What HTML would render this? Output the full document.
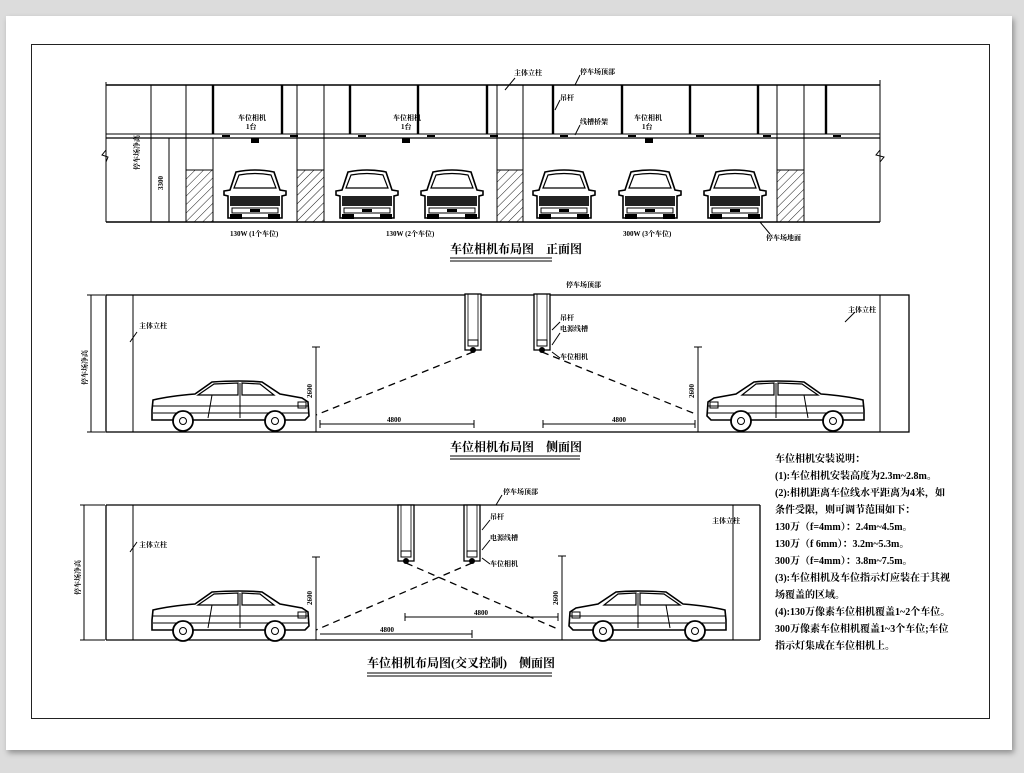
<!DOCTYPE html>
<html><head><meta charset="utf-8"><style>
html,body{margin:0;padding:0;background:#dcdcdc;}
.wrap{position:relative;width:1024px;height:773px;overflow:hidden;}
svg{position:absolute;left:0;top:0;}
text{font-family:"Liberation Serif","Noto Serif CJK SC","Noto Sans CJK SC",serif;fill:#000;}
.s{font-size:7px;font-weight:bold;}
.n{font-size:10px;font-weight:bold;}
.t{font-size:12px;font-weight:bold;}
</style></head><body><div class="wrap">
<svg width="1024" height="773" viewBox="0 0 1024 773">
<defs>
<filter id="sh" x="-5%" y="-5%" width="110%" height="110%"><feDropShadow dx="2" dy="3" stdDeviation="3" flood-opacity="0.35"/></filter>
<pattern id="hatch" width="6" height="6" patternUnits="userSpaceOnUse" patternTransform="rotate(45)"><line x1="0" y1="0" x2="0" y2="6" stroke="#000" stroke-width="0.9"/></pattern>
<g id="carF">
<path d="M8,50 L8,28 L4,27 L4,23 L10,22 L16,4 Q35,0 54,4 L60,22 L66,23 L66,27 L62,28 L62,50 Z" fill="#fff" stroke="#000" stroke-width="1.6"/>
<path d="M14,20 L19,7 Q35,4 51,7 L56,20 Z" fill="none" stroke="#000" stroke-width="1.2"/>
<rect x="10" y="28" width="50" height="10" fill="#222"/>
<rect x="12" y="40" width="46" height="5" fill="#fff" stroke="#000"/>
<rect x="10" y="46" width="12" height="5" fill="#000"/><rect x="48" y="46" width="12" height="5" fill="#000"/>
<rect x="30" y="41" width="10" height="3" fill="#000"/>
</g>
<g id="carS">
<path d="M2,30 L3,20 Q20,16 45,14 L62,2 Q90,0 112,2 L130,14 L152,18 L158,22 L159,36 L155,40 L2,40 Z" fill="#fff" stroke="#000" stroke-width="1.6"/>
<path d="M48,15 L64,4 L88,3 L88,15 Z M92,3 L110,4 L124,15 L92,15 Z" fill="none" stroke="#000" stroke-width="1.2"/>
<line x1="62" y1="15" x2="58" y2="38" stroke="#000"/><line x1="90" y1="3" x2="90" y2="38" stroke="#000"/>
<line x1="3" y1="26" x2="158" y2="26" stroke="#000" stroke-width="0.9"/>
<line x1="3" y1="33" x2="158" y2="33" stroke="#000" stroke-width="0.9"/>
<rect x="148" y="22" width="8" height="6" fill="none" stroke="#000"/>
<circle cx="33" cy="41" r="10" fill="#fff" stroke="#000" stroke-width="1.8"/><circle cx="33" cy="41" r="3.5" fill="none" stroke="#000"/>
<circle cx="125" cy="41" r="10" fill="#fff" stroke="#000" stroke-width="1.8"/><circle cx="125" cy="41" r="3.5" fill="none" stroke="#000"/>
</g>
<g id="cam">
<rect x="0" y="0" width="16" height="56" fill="#fff" stroke="#000" stroke-width="1.3"/>
<line x1="3" y1="0" x2="3" y2="46" stroke="#000" stroke-width="0.8"/>
<line x1="13" y1="0" x2="13" y2="46" stroke="#000" stroke-width="0.8"/>
<rect x="3" y="46" width="10" height="6" fill="none" stroke="#000"/>
<circle cx="8" cy="56" r="3" fill="#000"/>
</g>
</defs>
<rect x="6" y="16" width="1006" height="734" fill="#fff" filter="url(#sh)"/>
<rect x="31.5" y="44.5" width="958" height="674" fill="none" stroke="#222" stroke-width="1"/>

<g stroke="#000" fill="none" stroke-width="1">
<line x1="106" y1="85" x2="880" y2="85" stroke-width="1.4"/>
<line x1="106" y1="134" x2="880" y2="134"/>
<line x1="106" y1="138" x2="880" y2="138" stroke-width="1.3"/>
<line x1="106" y1="222" x2="880" y2="222" stroke-width="1.4"/>
<line x1="106" y1="82" x2="106" y2="222"/>
<line x1="880" y1="80" x2="880" y2="222"/>
<line x1="151" y1="85" x2="151" y2="222"/>
<line x1="169" y1="138" x2="169" y2="222"/>
<g stroke-width="2.4">
<line x1="213" y1="85" x2="213" y2="134"/><line x1="282" y1="85" x2="282" y2="134"/>
<line x1="350" y1="85" x2="350" y2="134"/><line x1="418" y1="85" x2="418" y2="134"/>
<line x1="487" y1="85" x2="487" y2="134"/><line x1="553" y1="85" x2="553" y2="134"/>
<line x1="622" y1="85" x2="622" y2="134"/><line x1="690" y1="85" x2="690" y2="134"/>
<line x1="758" y1="85" x2="758" y2="134"/><line x1="826" y1="85" x2="826" y2="134"/>
</g>
<line x1="186" y1="85" x2="186" y2="222"/><line x1="213" y1="138" x2="213" y2="222"/>
<line x1="297" y1="85" x2="297" y2="222"/><line x1="324" y1="85" x2="324" y2="222"/>
<line x1="497" y1="85" x2="497" y2="222"/><line x1="523" y1="85" x2="523" y2="222"/>
<line x1="777" y1="85" x2="777" y2="222"/><line x1="804" y1="85" x2="804" y2="222"/>
<polyline points="106,150 102,155 108,157 106,162"/>
<polyline points="880,150 876,155 884,157 880,162"/>
<line x1="505" y1="90" x2="515" y2="78"/><line x1="575" y1="85" x2="580" y2="75"/>
<line x1="555" y1="110" x2="560" y2="100"/><line x1="575" y1="135" x2="580" y2="125"/>
<line x1="760" y1="222" x2="770" y2="234"/>
</g>
<g fill="url(#hatch)" stroke="#000">
<rect x="186" y="170" width="27" height="52"/><rect x="297" y="170" width="27" height="52"/>
<rect x="497" y="170" width="26" height="52"/><rect x="777" y="170" width="27" height="52"/>
</g>
<g fill="#000">
<rect x="222" y="135" width="8" height="2"/><rect x="290" y="135" width="8" height="2"/><rect x="358" y="135" width="8" height="2"/>
<rect x="427" y="135" width="8" height="2"/><rect x="490" y="135" width="8" height="2"/><rect x="560" y="135" width="8" height="2"/>
<rect x="628" y="135" width="8" height="2"/><rect x="696" y="135" width="8" height="2"/><rect x="763" y="135" width="8" height="2"/><rect x="833" y="135" width="8" height="2"/>
<rect x="251" y="138" width="8" height="5"/><rect x="402" y="138" width="8" height="5"/><rect x="645" y="138" width="8" height="5"/>
</g>
<use href="#carF" x="220" y="168"/><use href="#carF" x="332" y="168"/><use href="#carF" x="417" y="168"/>
<use href="#carF" x="529" y="168"/><use href="#carF" x="615" y="168"/><use href="#carF" x="700" y="168"/>
<text class="s" x="238" y="120">车位相机</text><text class="s" x="246" y="129">1台</text>
<text class="s" x="393" y="120">车位相机</text><text class="s" x="401" y="129">1台</text>
<text class="s" x="634" y="120">车位相机</text><text class="s" x="642" y="129">1台</text>
<text class="s" x="514" y="75">主体立柱</text><text class="s" x="580" y="74">停车场顶部</text>
<text class="s" x="560" y="100">吊杆</text><text class="s" x="580" y="124">线槽桥架</text>
<text class="s" x="766" y="240">停车场地面</text>
<text class="s" transform="translate(139,170) rotate(-90)">停车场净高</text>
<text class="s" transform="translate(163,190) rotate(-90)">3300</text>
<text class="s" x="230" y="236">130W (1个车位)</text>
<text class="s" x="386" y="236">130W (2个车位)</text>
<text class="s" x="623" y="236">300W (3个车位)</text>
<text class="t" x="450" y="253">车位相机布局图　正面图</text>
<line x1="450" y1="258" x2="552" y2="258" stroke="#000"/><line x1="450" y1="261" x2="552" y2="261" stroke="#000"/>

<g stroke="#000" fill="none" stroke-width="1">
<rect x="106" y="295" width="803" height="137" stroke-width="1.3"/>
<line x1="133" y1="295" x2="133" y2="432"/><line x1="880" y1="295" x2="880" y2="432"/>
<line x1="91" y1="295" x2="91" y2="432"/><line x1="87" y1="295" x2="105" y2="295"/><line x1="87" y1="432" x2="105" y2="432"/>
<line x1="316" y1="347" x2="316" y2="432"/><line x1="312" y1="347" x2="320" y2="347"/>
<line x1="698" y1="347" x2="698" y2="432"/><line x1="694" y1="347" x2="702" y2="347"/>
<line x1="320" y1="424" x2="474" y2="424"/><line x1="320" y1="420" x2="320" y2="428"/><line x1="474" y1="420" x2="474" y2="428"/>
<line x1="543" y1="424" x2="695" y2="424"/><line x1="543" y1="420" x2="543" y2="428"/><line x1="695" y1="420" x2="695" y2="428"/>
<line x1="473" y1="352" x2="316" y2="415" stroke-dasharray="7,5" stroke-width="1.3"/>
<line x1="542" y1="352" x2="698" y2="415" stroke-dasharray="7,5" stroke-width="1.3"/>
<line x1="130" y1="342" x2="137" y2="332"/><line x1="855" y1="312" x2="845" y2="322"/>
<line x1="552" y1="330" x2="560" y2="322"/><line x1="552" y1="345" x2="560" y2="333"/><line x1="552" y1="352" x2="560" y2="358"/>
</g>
<use href="#cam" x="465" y="294"/><use href="#cam" x="534" y="294"/>
<use href="#carS" x="150" y="380"/>
<use href="#carS" transform="translate(866,380) scale(-1,1)"/>
<text class="s" x="139" y="328">主体立柱</text><text class="s" x="848" y="312">主体立柱</text>
<text class="s" x="566" y="287">停车场顶部</text><text class="s" x="560" y="320">吊杆</text>
<text class="s" x="560" y="331">电源线槽</text><text class="s" x="560" y="359">车位相机</text>
<text class="s" x="387" y="422">4800</text><text class="s" x="612" y="422">4800</text>
<text class="s" transform="translate(312,398) rotate(-90)">2600</text>
<text class="s" transform="translate(694,398) rotate(-90)">2600</text>
<text class="s" transform="translate(87,385) rotate(-90)">停车场净高</text>
<text class="t" x="450" y="451">车位相机布局图　侧面图</text>
<line x1="450" y1="456" x2="580" y2="456" stroke="#000"/><line x1="450" y1="459" x2="580" y2="459" stroke="#000"/>

<g stroke="#000" fill="none" stroke-width="1">
<line x1="106" y1="505" x2="760" y2="505" stroke-width="1.3"/>
<line x1="106" y1="640" x2="760" y2="640" stroke-width="1.3"/>
<line x1="106" y1="505" x2="106" y2="640" stroke-width="1.3"/>
<line x1="760" y1="505" x2="760" y2="640" stroke-width="1.3"/>
<line x1="133" y1="505" x2="133" y2="640"/><line x1="733" y1="505" x2="733" y2="640"/>
<line x1="84" y1="505" x2="84" y2="640"/><line x1="80" y1="505" x2="105" y2="505"/><line x1="80" y1="640" x2="105" y2="640"/>
<line x1="316" y1="557" x2="316" y2="640"/><line x1="312" y1="557" x2="320" y2="557"/>
<line x1="562" y1="556" x2="562" y2="640"/><line x1="558" y1="556" x2="566" y2="556"/>
<line x1="320" y1="634" x2="472" y2="634"/><line x1="472" y1="630" x2="472" y2="638"/>
<line x1="405" y1="617" x2="558" y2="617"/><line x1="405" y1="613" x2="405" y2="621"/><line x1="558" y1="613" x2="558" y2="621"/>
<line x1="406" y1="563" x2="560" y2="630" stroke-dasharray="7,5" stroke-width="1.3"/>
<line x1="472" y1="563" x2="316" y2="630" stroke-dasharray="7,5" stroke-width="1.3"/>
<line x1="496" y1="505" x2="502" y2="495"/><line x1="482" y1="530" x2="490" y2="520"/>
<line x1="482" y1="550" x2="490" y2="540"/><line x1="482" y1="558" x2="490" y2="564"/>
<line x1="130" y1="552" x2="137" y2="542"/>
</g>
<use href="#cam" x="398" y="505"/><use href="#cam" x="464" y="505"/>
<use href="#carS" x="150" y="590"/>
<use href="#carS" transform="translate(728,590) scale(-1,1)"/>
<text class="s" x="503" y="494">停车场顶部</text><text class="s" x="490" y="519">吊杆</text>
<text class="s" x="490" y="540">电源线槽</text><text class="s" x="490" y="566">车位相机</text>
<text class="s" x="139" y="547">主体立柱</text><text class="s" x="712" y="523">主体立柱</text>
<text class="s" x="380" y="632">4800</text><text class="s" x="474" y="615">4800</text>
<text class="s" transform="translate(312,605) rotate(-90)">2600</text>
<text class="s" transform="translate(558,605) rotate(-90)">2600</text>
<text class="s" transform="translate(80,595) rotate(-90)">停车场净高</text>
<text class="t" x="367" y="667">车位相机布局图(交叉控制)　侧面图</text>
<line x1="367" y1="673" x2="552" y2="673" stroke="#000"/><line x1="367" y1="676" x2="552" y2="676" stroke="#000"/>

<g class="n">
<text x="775" y="462">车位相机安装说明：</text>
<text x="775" y="479">(1):车位相机安装高度为2.3m~2.8m。</text>
<text x="775" y="496">(2):相机距离车位线水平距离为4米，如</text>
<text x="775" y="513">条件受限，则可调节范围如下：</text>
<text x="775" y="530">130万（f=4mm）：2.4m~4.5m。</text>
<text x="775" y="547">130万（f 6mm）：3.2m~5.3m。</text>
<text x="775" y="564">300万（f=4mm）：3.8m~7.5m。</text>
<text x="775" y="581">(3):车位相机及车位指示灯应装在于其视</text>
<text x="775" y="598">场覆盖的区域。</text>
<text x="775" y="615">(4):130万像素车位相机覆盖1~2个车位。</text>
<text x="775" y="632">300万像素车位相机覆盖1~3个车位;车位</text>
<text x="775" y="649">指示灯集成在车位相机上。</text>
</g>
</svg>
</div></body></html>
